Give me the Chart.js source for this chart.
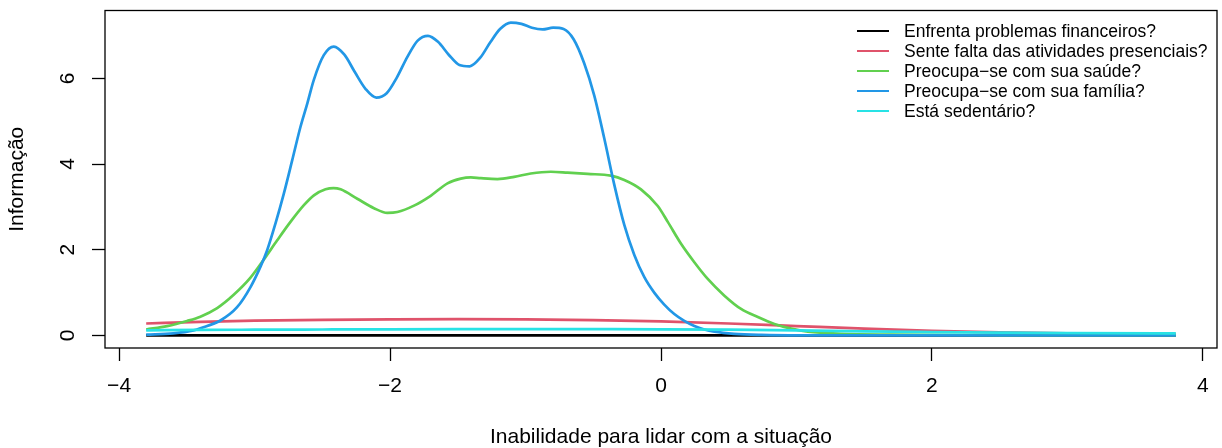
<!DOCTYPE html>
<html>
<head>
<meta charset="utf-8">
<script src="https://cdn.jsdelivr.net/npm/chart.js@4.4.1/dist/chart.umd.min.js"></script>
<style>
    html, body { margin: 0; padding: 0; background: #fff; }
    #wrap { position: relative; width: 1222px; height: 448px; }
    #legend { position: absolute; left: 857px; top: 21px; font-family: "Liberation Sans", Arial, sans-serif; font-size: 17.5px; color: #000; }
    .legend-row { position: relative; height: 20px; line-height: 20px; white-space: nowrap; }
    .legend-line { position: absolute; left: 0; top: 9px; width: 32px; height: 0; border-top: 2.7px solid #000; }
    .legend-text { position: absolute; left: 47px; top: 0; }
</style>
</head>
<body>
<div id="wrap">
    <canvas id="chart" width="1222" height="448"></canvas>
    <div id="legend"></div>
</div>
<script>
// --- data ---
const itemLabels = [
    "Enfrenta problemas financeiros?",
    "Sente falta das atividades presenciais?",
    "Preocupa\u2212se com sua sa\u00fade?",
    "Preocupa\u2212se com sua fam\u00edlia?",
    "Est\u00e1 sedent\u00e1rio?"
];

// flat curves share one theta grid
const thetaFlat = [-3.8, -3.4, -3.0, -2.5, -2.0, -1.5, -1.0, -0.5, 0, 0.5, 1.0, 1.5, 2.0, 2.5, 3.0, 3.8];
const infoFinanceiro = [0.005, 0.005, 0.005, 0.005, 0.005, 0.005, 0.005, 0.005, 0.005, 0.004, 0.004, 0.003, 0.003, 0.002, 0.002, 0.002];
const infoPresencial = [0.28, 0.32, 0.345, 0.365, 0.375, 0.38, 0.375, 0.36, 0.33, 0.28, 0.22, 0.16, 0.11, 0.075, 0.05, 0.03];
const infoSedentario = [0.12, 0.13, 0.135, 0.14, 0.145, 0.148, 0.15, 0.148, 0.145, 0.135, 0.12, 0.095, 0.08, 0.068, 0.058, 0.05];

const thetaSaude = [-3.8, -3.646, -3.498, -3.4, -3.276, -3.154, -3.03, -2.932, -2.833, -2.735, -2.636, -2.562, -2.476, -2.417,
    -2.365, -2.242, -2.119, -2.02, -1.946, -1.823, -1.7, -1.576, -1.478, -1.404, -1.33, -1.207, -1.084, -0.961, -0.813,
    -0.69, -0.542, -0.37, -0.271, -0.148, -0.024, 0.05, 0.148, 0.246, 0.345, 0.468, 0.591, 0.715, 0.837, 0.961, 1.084,
    1.33, 1.7, 2.5, 3.8];
const infoSaude = [0.14, 0.22, 0.34, 0.44, 0.64, 0.95, 1.35, 1.77, 2.22, 2.65, 3.04, 3.27, 3.41, 3.44,
    3.41, 3.19, 2.97, 2.86, 2.88, 3.03, 3.26, 3.55, 3.66, 3.69, 3.67, 3.65, 3.70, 3.78, 3.82,
    3.80, 3.77, 3.73, 3.63, 3.41, 3.02, 2.65, 2.14, 1.71, 1.32, 0.93, 0.62, 0.43, 0.27, 0.16, 0.09,
    0.04, 0.02, 0.005, 0.0];

const thetaFamilia = [-3.8, -3.6, -3.45, -3.4, -3.252, -3.129, -3.03, -2.957, -2.907, -2.846, -2.784, -2.722, -2.661, -2.611,
    -2.562, -2.489, -2.415, -2.337, -2.259, -2.18, -2.101, -2.025, -1.951, -1.872, -1.796, -1.72, -1.646, -1.567,
    -1.488, -1.412, -1.334, -1.26, -1.188, -1.109, -1.03, -0.953, -0.874, -0.796, -0.719, -0.645, -0.567, -0.493,
    -0.419, -0.345, -0.271, -0.197, -0.123, -0.05, 0.024, 0.098, 0.172, 0.246, 0.32, 0.394, 0.54, 0.74, 1.03, 3.8];
const infoFamilia = [0.02, 0.05, 0.12, 0.17, 0.35, 0.66, 1.13, 1.6, 1.99, 2.61, 3.31, 4.09, 4.87, 5.41,
    5.97, 6.54, 6.74, 6.55, 6.14, 5.75, 5.55, 5.65, 6.01, 6.5, 6.88, 6.99, 6.85, 6.55,
    6.31, 6.28, 6.48, 6.84, 7.15, 7.30, 7.27, 7.18, 7.14, 7.18, 7.15, 6.91, 6.35, 5.6,
    4.6, 3.52, 2.58, 1.88, 1.36, 1.0, 0.72, 0.5, 0.34, 0.22, 0.14, 0.09, 0.04, 0.015, 0.005, 0.0];

const xTicks = [-4, -2, 0, 2, 4];
const yTicks = [0, 2, 4, 6];

// --- styles ---
const lineColors = ["#000000", "#DF536B", "#61D04F", "#2297E6", "#28E2E5"];
const FONT = '"Liberation Sans", Arial, sans-serif';

const toPoints = (xs, ys) => xs.map((x, i) => ({ x: x, y: ys[i] }));
const minusLabel = v => (v < 0 ? '\u2212' + Math.abs(v) : String(v));

const seriesData = [
    toPoints(thetaFlat, infoFinanceiro),
    toPoints(thetaFlat, infoPresencial),
    toPoints(thetaSaude, infoSaude),
    toPoints(thetaFamilia, infoFamilia),
    toPoints(thetaFlat, infoSedentario)
];

// last series on top, as in the original plot
const datasets = seriesData.map((pts, i) => ({
    label: itemLabels[i],
    data: pts,
    borderColor: lineColors[i],
    backgroundColor: lineColors[i],
    borderWidth: 2.7,
    pointRadius: 0,
    fill: false,
    cubicInterpolationMode: 'monotone',
    order: seriesData.length - i
}));

const boxPlugin = {
    id: 'plotBox',
    afterDatasetsDraw(chart) {
        const { ctx, chartArea: a } = chart;
        ctx.save();
        ctx.strokeStyle = '#000';
        ctx.lineWidth = 1.3;
        ctx.strokeRect(a.left, a.top, a.right - a.left, a.bottom - a.top);
        ctx.restore();
    }
};

Chart.defaults.font.family = FONT;
Chart.defaults.color = '#000';

new Chart(document.getElementById('chart').getContext('2d'), {
    type: 'line',
    data: { datasets: datasets },
    options: {
        responsive: false,
        animation: false,
        layout: { padding: { left: 0, right: 5, top: 10.5, bottom: 0 } },
        plugins: { legend: { display: false }, tooltip: { enabled: false } },
        scales: {
            x: {
                type: 'linear',
                min: -4.104,
                max: 4.104,
                afterBuildTicks: s => { s.ticks = xTicks.map(v => ({ value: v })); },
                afterFit: s => { s.height = 100; s.paddingLeft = 0; s.paddingRight = 0; },
                grid: { drawOnChartArea: false, drawTicks: true, tickLength: 13, tickColor: '#000', tickWidth: 1.3 },
                border: { display: false },
                ticks: { font: { size: 21 }, padding: 13.1, maxRotation: 0, callback: minusLabel },
                title: { display: true, text: 'Inabilidade para lidar com a situa\u00e7\u00e3o', font: { size: 21, lineHeight: 1 }, padding: { top: 0, bottom: 0.4 } }
            },
            y: {
                type: 'linear',
                min: -0.2916,
                max: 7.5816,
                afterBuildTicks: s => { s.ticks = yTicks.map(v => ({ value: v })); },
                afterFit: s => { s.width = 105; s.paddingTop = 0; s.paddingBottom = 0; },
                grid: { drawOnChartArea: false, drawTicks: true, tickLength: 13, tickColor: '#000', tickWidth: 1.3 },
                border: { display: false },
                ticks: { font: { size: 21 }, padding: 18.2, minRotation: 90, maxRotation: 90, crossAlign: 'center', callback: minusLabel },
                title: { display: true, text: 'Informa\u00e7\u00e3o', font: { size: 21, lineHeight: 1 }, padding: { top: 7.2, bottom: 0 } }
            }
        }
    },
    plugins: [boxPlugin]
});

// --- legend, top right inside the plot ---
const legendEl = document.getElementById('legend');
legendEl.innerHTML = itemLabels.map((label, i) => `
    <div class="legend-row">
        <div class="legend-line" style="border-top-color: ${lineColors[i]}"></div>
        <div class="legend-text">${label}</div>
    </div>`).join('');
</script>
</body>
</html>
